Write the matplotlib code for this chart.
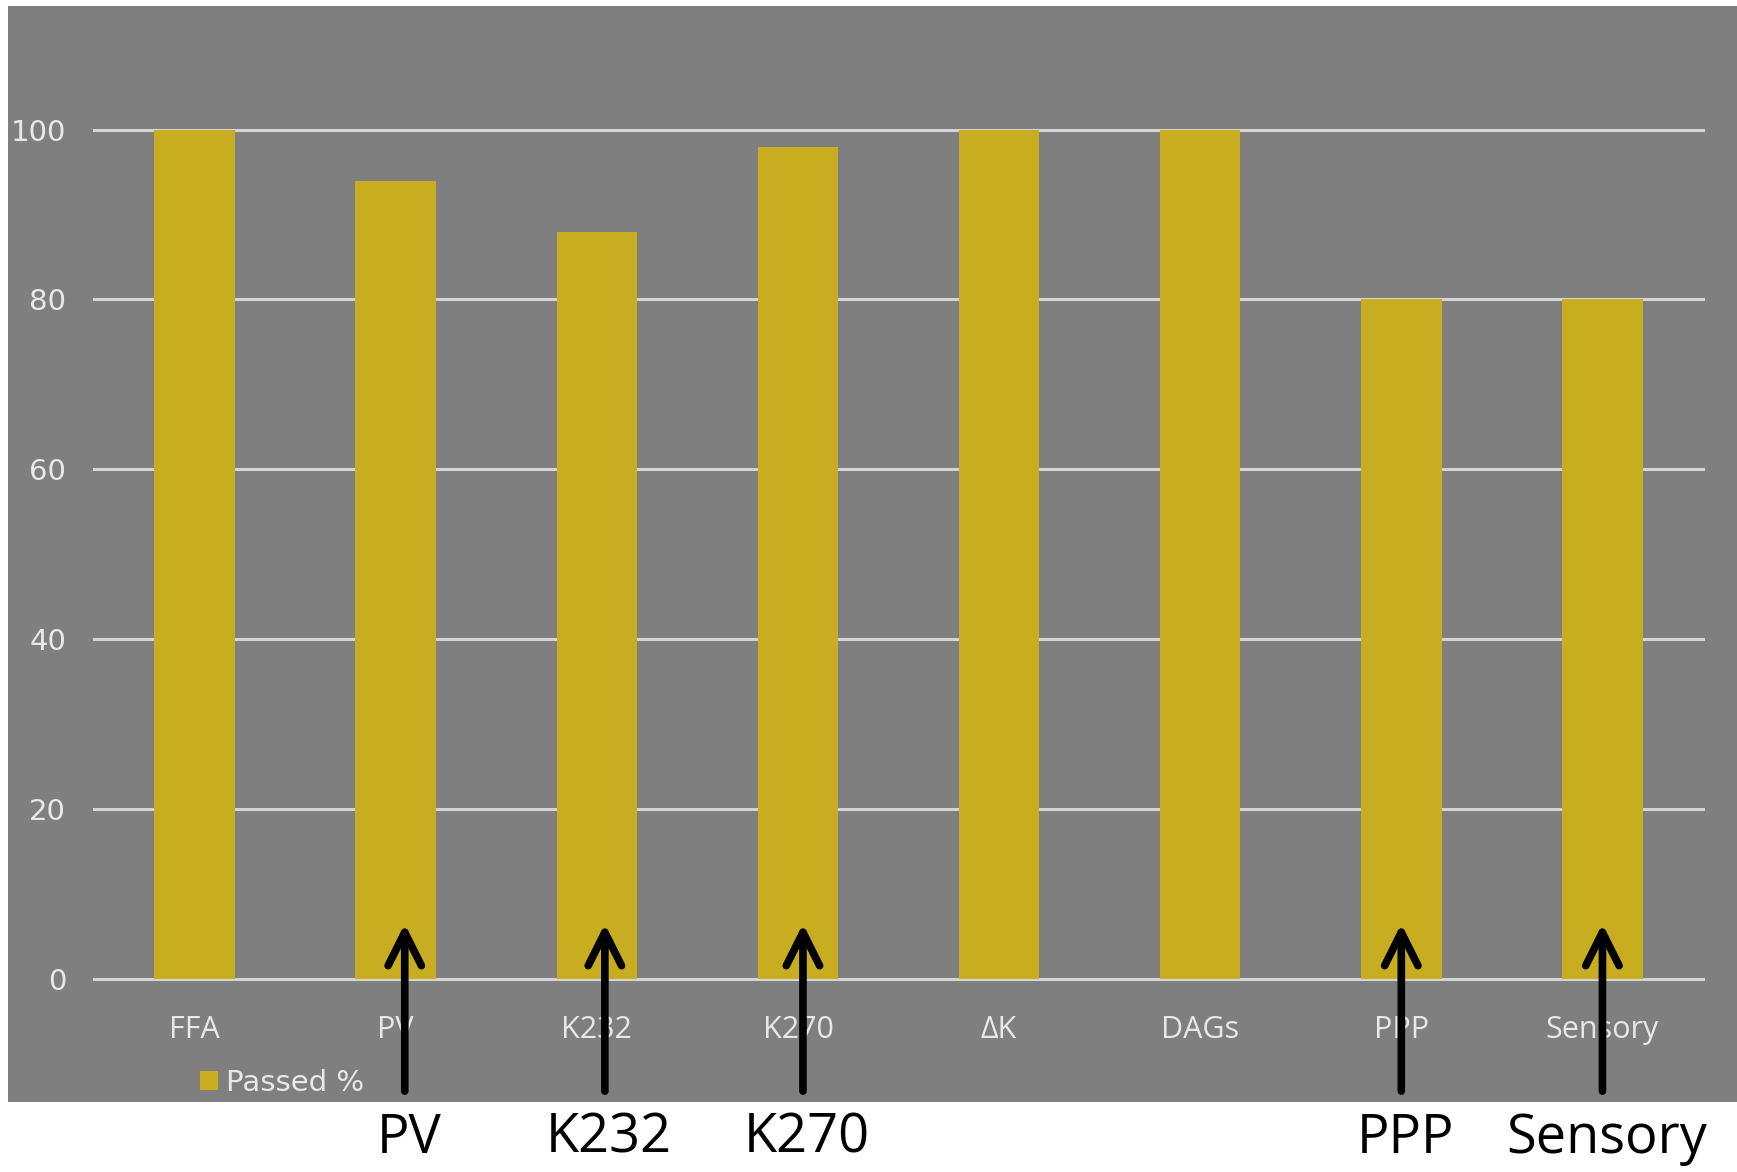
import matplotlib.pyplot as plt
from matplotlib.patches import Rectangle

categories = ["FFA", "PV", "K232", "K270", "ΔK", "DAGs", "PPP", "Sensory"]
passed = [100, 94, 88, 98, 100, 100, 80, 80]
highlighted = ["PV", "K232", "K270", "PPP", "Sensory"]
yticks = [0, 20, 40, 60, 80, 100]

bg_gray = "#7f7f7f"
bar_gold = "#c9ad21"
grid_col = "#d4d4d4"
text_col = "#e8e8e8"

fig = plt.figure(figsize=(17.37, 11.72), dpi=100)
fig.patch.set_facecolor("white")

# gray panel behind the chart (the lower strip stays white for the callouts)
fig.patches.append(Rectangle((8 / 1737, 1 - 1102 / 1172), 1 - 8 / 1737, (1102 - 6) / 1172,
                             transform=fig.transFigure, facecolor=bg_gray,
                             edgecolor="none", zorder=-10))

ax = fig.add_axes([94 / 1737, 1 - 979 / 1172, (1703 - 94) / 1737, (979 - 129.6) / 1172])
ax.set_facecolor("none")
ax.set_zorder(1)

x = list(range(len(categories)))
bars = ax.bar(x, passed, width=0.4, color=bar_gold, zorder=2, label="Passed %")

ax.set_xlim(-0.5, 7.5)
ax.set_ylim(0, 100)
ax.set_yticks(yticks)
ax.set_yticklabels([str(v) for v in yticks], fontsize=21, color=text_col,
                   family="DejaVu Sans")
ax.set_xticks(x)
ax.set_xticklabels(categories, fontsize=22, color=text_col, family="Open Sans")
ax.tick_params(axis="both", length=0)
ax.tick_params(axis="y", pad=20)
ax.tick_params(axis="x", pad=26)
ax.yaxis.grid(True, color=grid_col, linewidth=2.2, zorder=1)
for gl in ax.yaxis.get_gridlines():
    gl.set_clip_on(False)
ax.set_axisbelow(True)
for s in ax.spines.values():
    s.set_visible(False)

leg = fig.legend(handles=[bars], labels=["Passed %"], loc="center left",
                 bbox_to_anchor=(200 / 1737, 1 - 1083 / 1172), frameon=False,
                 handlelength=0.6, handleheight=0.6, handletextpad=0.3,
                 borderpad=0, borderaxespad=0,
                 prop={"family": "DejaVu Sans", "size": 21})
for t in leg.get_texts():
    t.set_color(text_col)

# black arrows pointing at the selected bars, with names underneath
nudge = {"PV": 0.045, "K232": 0.04, "K270": 0.025}
for name in highlighted:
    i = categories.index(name)
    xa = i + nudge.get(name, 0)
    ax.annotate("", xy=(xa, 6.5), xytext=(xa, -13.2),
                arrowprops=dict(arrowstyle="->,head_length=2.4,head_width=1.2",
                                color="black", lw=5.5, shrinkA=0, shrinkB=0,
                                capstyle="round", joinstyle="round"),
                annotation_clip=False, zorder=5)
    ax.annotate(name, xy=(xa + 0.02, 0.029), xycoords=("data", "figure fraction"),
                ha="center", va="center", fontsize=39, family="Open Sans",
                color="black")

fig.savefig("out.png", dpi=100)
